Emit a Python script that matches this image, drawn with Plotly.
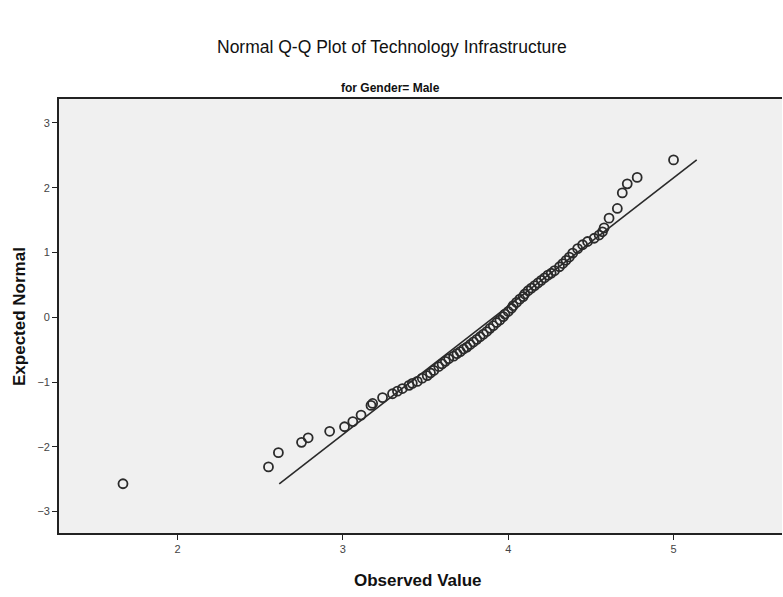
import plotly.graph_objects as go

# Observed values and their expected normal scores
observed = [
    1.67, 2.55, 2.61, 2.75, 2.79, 2.92, 3.01, 3.06, 3.11, 3.17,
    3.18, 3.24, 3.30, 3.33, 3.36, 3.40, 3.42, 3.45, 3.48, 3.51,
    3.53, 3.55, 3.58, 3.60, 3.62, 3.64, 3.67, 3.69, 3.71, 3.73,
    3.75, 3.77, 3.79, 3.81, 3.83, 3.85, 3.87, 3.89, 3.91, 3.93,
    3.95, 3.97, 3.98, 4.00, 4.02, 4.03, 4.05, 4.07, 4.09, 4.10,
    4.12, 4.14, 4.16, 4.18, 4.20, 4.22, 4.24, 4.26, 4.28, 4.31,
    4.33, 4.35, 4.37, 4.39, 4.42, 4.45, 4.48, 4.52, 4.55, 4.57,
    4.58, 4.61, 4.66, 4.69, 4.72, 4.78, 5.00,
]
expected = [
    -2.57, -2.31, -2.09, -1.93, -1.86, -1.76, -1.69, -1.61, -1.51, -1.36,
    -1.33, -1.24, -1.18, -1.14, -1.10, -1.05, -1.02, -0.99, -0.94, -0.90,
    -0.86, -0.82, -0.76, -0.72, -0.68, -0.64, -0.60, -0.56, -0.53, -0.49,
    -0.46, -0.42, -0.38, -0.34, -0.30, -0.26, -0.22, -0.17, -0.13, -0.08,
    -0.04, 0.01, 0.05, 0.09, 0.14, 0.18, 0.23, 0.28, 0.32, 0.36,
    0.41, 0.45, 0.49, 0.53, 0.57, 0.61, 0.65, 0.68, 0.72, 0.78,
    0.83, 0.88, 0.93, 0.99, 1.06, 1.12, 1.17, 1.22, 1.27, 1.32,
    1.38, 1.53, 1.68, 1.92, 2.06, 2.16, 2.43,
]

# Parameters of the fitted normal reference line
sample_mean = 3.913
sample_sd = 0.505

x_ticks = [2, 3, 4, 5]
y_ticks = [-3, -2, -1, 0, 1, 2, 3]

z_lo, z_hi = min(expected), max(expected)
line_x = [sample_mean + z_lo * sample_sd, sample_mean + z_hi * sample_sd]
line_y = [z_lo, z_hi]

fig = go.Figure()
fig.add_trace(go.Scatter(
    x=line_x, y=line_y, mode="lines",
    line=dict(color="#2a2a2a", width=1.6),
    hoverinfo="skip", showlegend=False,
))
fig.add_trace(go.Scatter(
    x=observed, y=expected, mode="markers",
    marker=dict(symbol="circle-open", size=9, color="#2b2b2b",
                line=dict(width=1.8, color="#2b2b2b")),
    showlegend=False,
))

axis_font = dict(family="Liberation Sans, Arial, sans-serif", size=11, color="#444444")

fig.update_layout(
    width=783, height=597,
    margin=dict(l=59, r=1, t=99, b=64),
    paper_bgcolor="white",
    plot_bgcolor="#f0f0f0",
    font=dict(family="Liberation Sans, Arial, sans-serif", color="#111111"),
    xaxis=dict(
        range=[1.283, 5.656], tickvals=x_ticks, ticks="outside", ticklen=5,
        tickwidth=1.3, tickcolor="#222222", showgrid=False, zeroline=False,
        showline=True, linecolor="#222222", linewidth=1.7, mirror=True,
        tickfont=axis_font,
    ),
    yaxis=dict(
        range=[-3.33, 3.37], tickvals=y_ticks, ticks="outside", ticklen=5,
        tickwidth=1.3, tickcolor="#222222", showgrid=False, zeroline=False,
        showline=True, linecolor="#222222", linewidth=1.7, mirror=False,
        tickfont=axis_font,
    ),
    annotations=[
        dict(text="Normal Q-Q Plot of Technology Infrastructure",
             xref="paper", yref="paper", x=(392 - 59) / 723, y=1 + (99 - 47) / 434,
             xanchor="center", yanchor="middle", showarrow=False,
             font=dict(family="Liberation Sans, Arial, sans-serif",
                       size=17.5, color="#111111")),
        dict(text="<b>for Gender= Male</b>",
             xref="paper", yref="paper", x=(390 - 59) / 723, y=1 + (99 - 88) / 434,
             xanchor="center", yanchor="middle", showarrow=False,
             font=dict(family="Liberation Sans, Arial, sans-serif",
                       size=12, color="#111111")),
        dict(text="<b>Observed Value</b>",
             xref="paper", yref="paper", x=(418 - 59) / 723, y=-(580 - 533) / 434,
             xanchor="center", yanchor="middle", showarrow=False,
             font=dict(family="Liberation Sans, Arial, sans-serif", size=17, color="#111111")),
        dict(text="<b>Expected Normal</b>",
             xref="paper", yref="paper", x=-(59 - 19) / 723, y=(533 - 317) / 434,
             xanchor="center", yanchor="middle", showarrow=False, textangle=-90,
             font=dict(family="Liberation Sans, Arial, sans-serif", size=17, color="#111111")),
    ],
)

fig.write_html("out.html")
